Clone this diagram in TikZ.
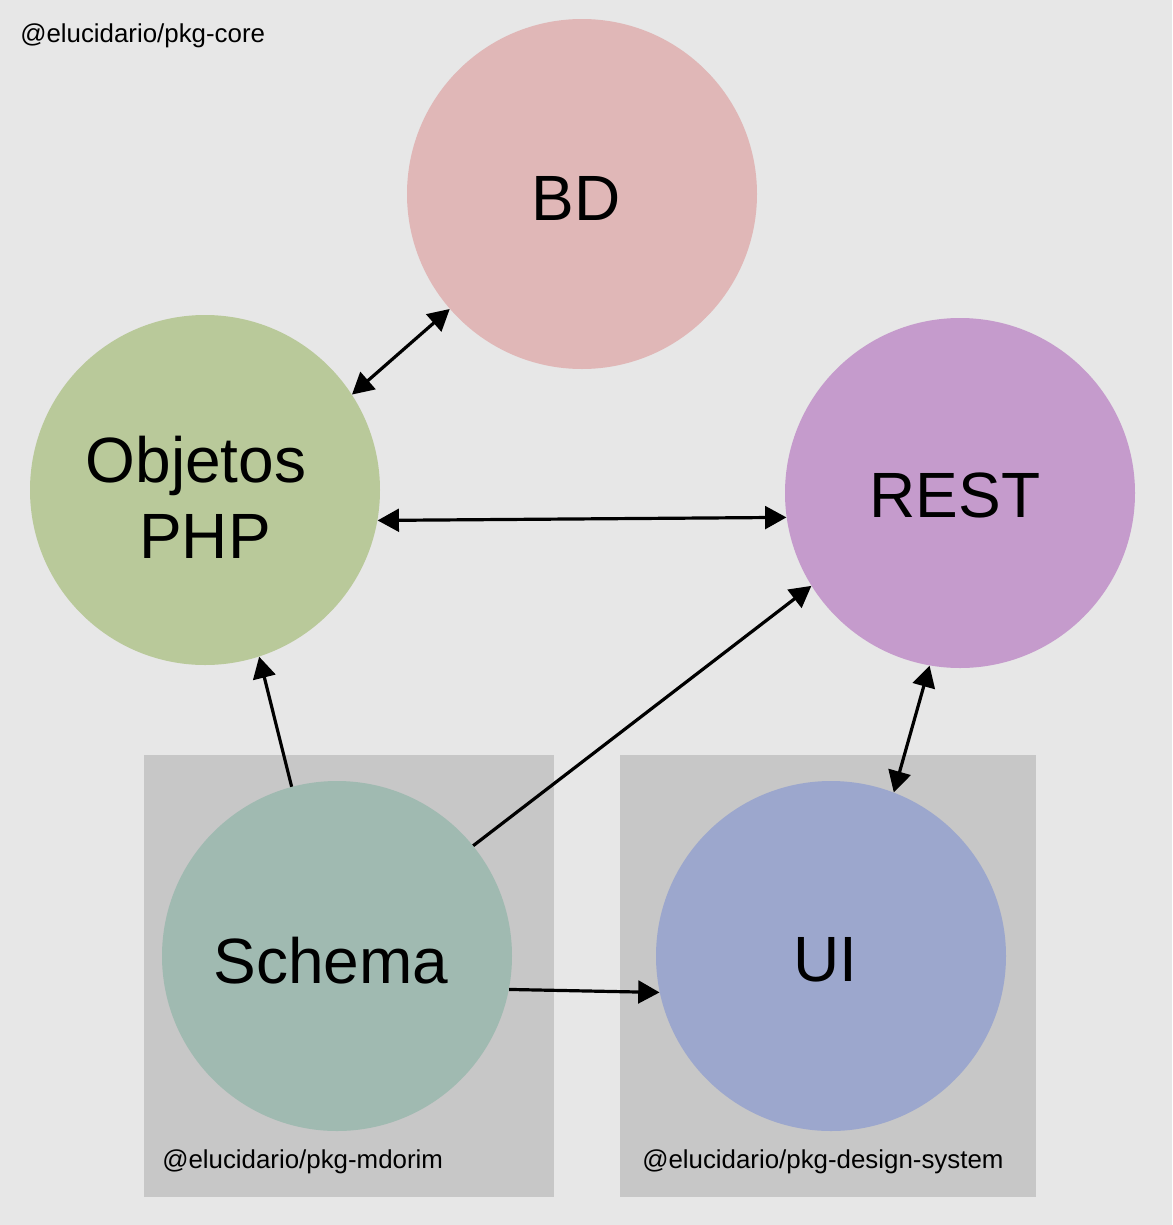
\documentclass[tikz,border=0pt]{standalone}
\usepackage{fontspec}
\setmainfont{Liberation Sans}
\usetikzlibrary{arrows.meta}
\definecolor{bgc}{HTML}{E7E7E7}
\definecolor{boxc}{HTML}{C7C7C7}
\definecolor{bdc}{HTML}{E0B7B7}
\definecolor{phpc}{HTML}{B9C99A}
\definecolor{restc}{HTML}{C59BCC}
\definecolor{schemac}{HTML}{A0BAB1}
\definecolor{uic}{HTML}{9CA7CD}
\tikzset{
  bubble/.style={circle, draw=none, inner sep=0pt, minimum size=262.5pt},
  bigtext/.style={anchor=base, inner sep=0pt, font=\fontsize{48}{56}\selectfont},
  smalltext/.style={anchor=base west, inner sep=0pt, font=\fontsize{19.4}{23}\selectfont},
  pkgbox/.style={fill=boxc, draw=none},
  conn/.style={line width=2.4pt, -{Triangle[length=16pt,width=17pt]}},
  biconn/.style={line width=2.4pt, {Triangle[length=16pt,width=17pt]}-{Triangle[length=16pt,width=17pt]}}
}
\begin{document}
\begin{tikzpicture}[x=0.75pt,y=-0.75pt]
\fill[bgc] (0,0) rectangle (1172,1225);
\useasboundingbox (0,0) rectangle (1172,1225);
\fill[pkgbox] (144,755) rectangle (554,1197);
\fill[pkgbox] (620,755) rectangle (1036,1197);
\node[smalltext] (core) at (20,42) {@elucidario/pkg-core};
\node[smalltext] (mdorim) at (162,1168) {@elucidario/pkg-mdorim};
\node[smalltext] (ds) at (642,1168) {@elucidario/pkg-design-system};
\node[bubble, fill=bdc] (bd) at (582,194) {};
\node[bubble, fill=phpc] (php) at (205,490) {};
\node[bubble, fill=restc] (rest) at (960,493) {};
\node[bubble, fill=schemac] (schema) at (337,956) {};
\node[bubble, fill=uic] (ui) at (831,956) {};
\node[bigtext] (bdt) at (576,220) {BD};
\node[bigtext] (phpt1) at (196,482) {Objetos};
\node[bigtext] (phpt2) at (205,558) {PHP};
\node[bigtext] (restt) at (955,517) {REST};
\node[bigtext] (schemat) at (331,983) {Schema};
\node[bigtext] (uit) at (825,981) {UI};
\draw[biconn] (php.33.7) -- (bd.221.8);
\draw[biconn] (php.-10) -- (rest.188.1);
\draw[conn] (schema.105.8) -- (php.-72.9);
\draw[conn] (schema.39.6) -- (rest.212);
\draw[biconn] (rest.260.4) -- (ui.69.1);
\draw[conn] (schema.-11.9) -- (ui.192.5);
\end{tikzpicture}
\end{document}
